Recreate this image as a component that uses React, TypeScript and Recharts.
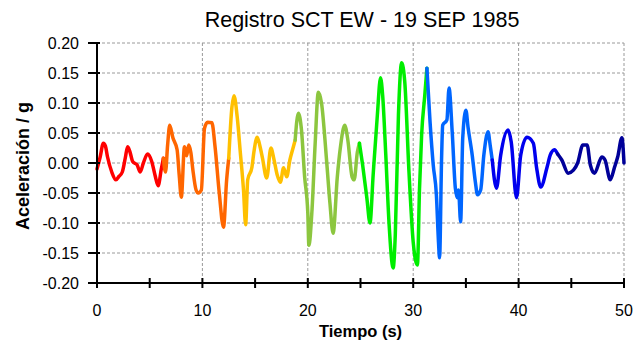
import React from "react";
import { LineChart, Line, XAxis, YAxis, CartesianGrid } from "recharts";

// time (s) and acceleration (g) read from the record
const time = [
  0.0, 0.3, 0.6, 0.8, 1.0, 1.4, 1.8, 2.1, 2.4, 2.7, 2.9, 3.1, 3.4, 3.8, 4.1, 4.4, 4.8, 5.2, 5.5, 5.8, 6.1, 6.3,
  6.5, 6.7, 6.9, 7.2, 7.6, 7.8, 8.0, 8.3, 8.5, 8.7, 8.9, 9.1, 9.4, 9.6, 9.9, 10.2, 10.5, 10.9, 11.2, 11.6, 12.0, 12.3, 12.5,
  12.8, 13.0, 13.3, 13.6, 13.9, 14.1, 14.3, 14.7, 14.9, 15.2, 15.5, 15.7, 16.1, 16.5, 16.8, 17.1, 17.4, 17.7, 18.0, 18.3, 18.6, 18.8,
  19.1, 19.4, 19.7, 20.0, 20.1, 20.4, 20.7, 21.0, 21.3, 21.8, 22.1, 22.4, 22.8, 23.1, 23.5, 23.8, 24.2, 24.4, 24.7, 24.9,
  25.2, 25.6, 25.9, 26.2, 26.6, 26.9, 27.1, 27.4, 27.7, 28.1, 28.3, 28.6, 28.9, 29.2, 29.6, 30.0, 30.4, 30.6, 30.8, 31.1, 31.3,
  31.6, 31.9, 32.2, 32.4, 32.5, 32.7, 32.8, 33.2, 33.4, 33.7, 34.0, 34.2, 34.3, 34.5, 34.7, 35.0, 35.2, 35.6, 35.9, 36.1, 36.4, 36.7, 37.1, 37.3, 37.5,
  37.9, 38.3, 39.0, 39.3, 39.8, 40.2, 40.8, 41.4, 41.7, 42.1, 42.7, 43.0, 43.4, 43.7,
  44.1, 44.7, 45.2, 45.6, 46.1, 46.5, 46.8, 47.2, 47.9, 48.2, 48.7, 49.1, 49.4, 49.8, 50.0,
];

const accel = [
  -0.010, 0.010, 0.033, 0.028, 0.010, -0.015, -0.028, -0.022, -0.015, 0.010, 0.027, 0.020, 0.002, -0.003, -0.015, 0.000, 0.015, 0.002, -0.020, -0.038, -0.010, 0.008,
  -0.015, 0.030, 0.063, 0.042, 0.022, -0.020, -0.057, 0.027, 0.012, 0.030, 0.018, -0.012, -0.045, -0.050, -0.045, 0.058, 0.068, 0.067, 0.027, -0.050, -0.107, -0.028, 0.008,
  0.093, 0.112, 0.077, 0.017, -0.045, -0.103, -0.028, -0.007, 0.020, 0.043, 0.025, 0.008, -0.025, 0.025, 0.005, -0.020, -0.032, -0.008, -0.023, 0.005, 0.025, 0.038,
  0.083, 0.055, -0.023, -0.083, -0.137, -0.078, 0.033, 0.118, 0.100, 0.000, -0.067, -0.117, -0.023, 0.027, 0.063, 0.038, -0.023, -0.028, 0.018, 0.033,
  -0.003, -0.058, -0.100, -0.020, 0.080, 0.142, 0.113, 0.013, -0.098, -0.175, -0.120, 0.080, 0.167, 0.135, -0.015, -0.132, -0.170, -0.042, 0.047, 0.113, 0.158,
  0.068, -0.003, -0.053, -0.132, -0.158, 0.013, 0.063, 0.072, 0.125, 0.052, -0.042, -0.058, -0.045, -0.098, 0.042, 0.088, 0.060, 0.013, -0.032, -0.053, -0.045, 0.013, 0.052, 0.030, 0.005,
  -0.042, 0.013, 0.055, 0.035, -0.058, 0.013, 0.043, 0.033, -0.007, -0.040, -0.007, 0.013, 0.022, 0.015,
  0.005, -0.017, -0.012, 0.000, 0.030, 0.030, -0.003, -0.017, 0.010, 0.005, -0.028, -0.007, 0.010, 0.042, 0.000,
];

// colour bands along the time axis
const segmentBreaks = [0, 6.3, 12.5, 18.8, 24.9, 31.3, 37.5, 43.7, 50];
const segmentColors = ["#ff0000", "#ff6600", "#ffc000", "#8cc63f", "#00ee00", "#0066ff", "#0000ee", "#000099"];

const xTicks = [0, 5, 10, 15, 20, 25, 30, 35, 40, 45, 50];
const yTicks = [-0.2, -0.15, -0.1, -0.05, 0, 0.05, 0.1, 0.15, 0.2];

// each band runs from its break to the next one, sharing the boundary point
const segments = segmentColors.map((color, i) => ({
  color,
  data: time
    .map((t, j) => ({ t, a: accel[j] }))
    .filter((p) => p.t >= segmentBreaks[i] && p.t <= segmentBreaks[i + 1]),
}));

const FONT = "'Liberation Sans', Arial, sans-serif";
const X_TICK_SIZE = 5;
const X_TICK_MARGIN = 17;
const Y_TICK_SIZE = 8;
const Y_TICK_MARGIN = 10;

function XTick(props: any) {
  const { x, y, payload } = props;
  const axisY = y - X_TICK_SIZE - X_TICK_MARGIN;
  return (
    <g>
      <line x1={x} x2={x} y1={axisY - 5} y2={axisY + 5} stroke="#000" strokeWidth={2} />
      {payload.value % 10 === 0 && (
        <text x={x} y={y} dy="0.71em" textAnchor="middle" fontSize={16} fontFamily={FONT} fill="#000">
          {payload.value}
        </text>
      )}
    </g>
  );
}

function YTick(props: any) {
  const { x, y, payload } = props;
  const axisX = x + Y_TICK_SIZE + Y_TICK_MARGIN;
  return (
    <g>
      <line x1={axisX - 9} x2={axisX + 3} y1={y} y2={y} stroke="#000" strokeWidth={2} />
      <text x={x} y={y} dy="0.355em" textAnchor="end" fontSize={16} fontFamily={FONT} fill="#000">
        {payload.value.toFixed(2)}
      </text>
    </g>
  );
}

export default function App() {
  return (
    <div style={{ position: "absolute", left: 0, top: 0, width: 639, height: 346, background: "#fff" }}>
      <div
        style={{
          position: "absolute",
          left: 162,
          width: 400,
          top: 8,
          textAlign: "center",
          fontFamily: FONT,
          fontSize: 21.5,
          lineHeight: "24px",
          color: "#000",
        }}
      >
        Registro SCT EW - 19 SEP 1985
      </div>
      <LineChart
        width={639}
        height={346}
        margin={{ top: 43, right: 15, bottom: 13, left: 0 }}
        style={{ position: "absolute", left: 0, top: 0 }}
      >
        <CartesianGrid
          stroke="#9a9a9a"
          strokeDasharray="3 2"
          horizontalValues={[-0.15, -0.1, -0.05, 0, 0.05, 0.1, 0.15, 0.2]}
          verticalValues={[10, 20, 30, 40, 50]}
        />
        <XAxis
          type="number"
          dataKey="t"
          domain={[0, 50]}
          ticks={xTicks}
          interval={0}
          height={50}
          tickSize={X_TICK_SIZE}
          tickMargin={X_TICK_MARGIN}
          tickLine={false}
          axisLine={{ stroke: "#000", strokeWidth: 2 }}
          tick={<XTick />}
          label={{
            value: "Tiempo (s)",
            position: "insideBottom",
            offset: -4,
            style: { fontFamily: FONT, fontSize: 16.5, fontWeight: 700, fill: "#000" },
          }}
        />
        <YAxis
          type="number"
          domain={[-0.2, 0.2]}
          ticks={yTicks}
          interval={0}
          width={97}
          tickSize={Y_TICK_SIZE}
          tickMargin={Y_TICK_MARGIN}
          tickLine={false}
          axisLine={{ stroke: "#000", strokeWidth: 2 }}
          tick={<YTick />}
          label={{
            content: ({ viewBox }: any) => {
              const cx = viewBox.x + 23;
              const cy = viewBox.y + viewBox.height / 2 + 3;
              return (
                <text
                  x={cx}
                  y={cy}
                  transform={`rotate(-90, ${cx}, ${cy})`}
                  textAnchor="middle"
                  dominantBaseline="central"
                  fontFamily={FONT}
                  fontSize={18}
                  fontWeight={700}
                  fill="#000"
                >
                  Aceleración / g
                </text>
              );
            },
          }}
        />
        {segments.map((s, i) => (
          <Line
            key={i}
            data={s.data}
            dataKey="a"
            type="monotone"
            stroke={s.color}
            strokeWidth={3.5}
            strokeLinejoin="round"
            strokeLinecap="round"
            dot={false}
            isAnimationActive={false}
          />
        ))}
      </LineChart>
    </div>
  );
}
